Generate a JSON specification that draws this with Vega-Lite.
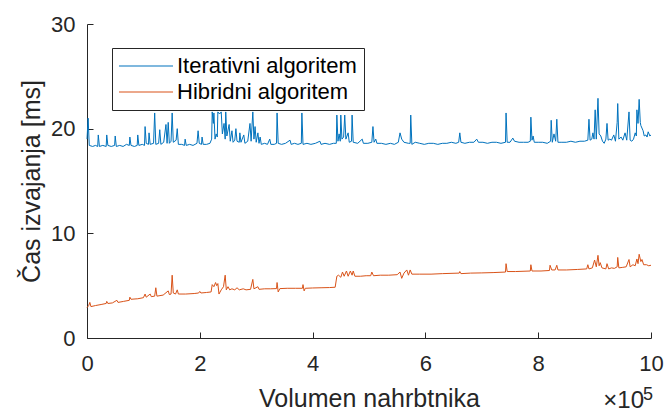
{
  "$schema": "https://vega.github.io/schema/vega-lite/v6.json",
  "width": 564,
  "height": 314,
  "autosize": {"type": "none"},
  "padding": {"left": 87, "top": 24, "right": 14, "bottom": 74},
  "background": "white",
  "config": {
    "view": {"stroke": null},
    "font": "Liberation Sans",
    "axis": {
      "grid": false,
      "domainColor": "#262626",
      "domainWidth": 1,
      "tickColor": "#262626",
      "tickWidth": 1,
      "tickSize": -6,
      "labelColor": "#262626",
      "labelFont": "Liberation Sans",
      "labelFontSize": 22,
      "titleColor": "#262626",
      "titleFont": "Liberation Sans",
      "titleFontSize": 25,
      "titleFontWeight": "normal"
    },
    "legend": {
      "orient": "none",
      "legendX": 25,
      "legendY": 24,
      "strokeColor": "#262626",
      "fillColor": "white",
      "padding": 7,
      "symbolType": "M-2.7,0H2.7",
      "symbolSize": 400,
      "symbolOffset": 16,
      "symbolStrokeWidth": 1.2,
      "labelFont": "Liberation Sans",
      "labelFontSize": 22,
      "labelColor": "#000000",
      "labelOffset": 20,
      "labelLimit": 0,
      "rowPadding": 4,
      "title": null
    }
  },
  "datasets": {
    "iter": [
      {"x":0,"y":19.0},{"x":0.02,"y":21.0},{"x":0.04,"y":18.4},{"x":0.1,"y":18.3},{"x":0.15,"y":18.4},{"x":0.19,"y":18.3},{"x":0.2,"y":19.4},{"x":0.22,"y":18.3},{"x":0.28,"y":18.4},{"x":0.34,"y":18.3},{"x":0.35,"y":19.4},{"x":0.37,"y":18.4},{"x":0.43,"y":18.3},{"x":0.49,"y":18.4},{"x":0.5,"y":19.3},{"x":0.52,"y":18.3},{"x":0.58,"y":18.4},{"x":0.64,"y":18.3},{"x":0.7,"y":18.5},{"x":0.75,"y":18.4},{"x":0.76,"y":19.2},{"x":0.78,"y":18.4},{"x":0.84,"y":18.3},{"x":0.89,"y":18.4},{"x":0.9,"y":19.4},{"x":0.92,"y":18.4},{"x":0.98,"y":18.5},{"x":1.02,"y":18.4},{"x":1.03,"y":20.2},{"x":1.05,"y":18.6},{"x":1.09,"y":18.5},{"x":1.1,"y":19.6},{"x":1.12,"y":18.5},{"x":1.18,"y":18.6},{"x":1.2,"y":21.5},{"x":1.22,"y":18.5},{"x":1.27,"y":18.6},{"x":1.29,"y":19.9},{"x":1.31,"y":18.5},{"x":1.36,"y":18.7},{"x":1.4,"y":20.4},{"x":1.42,"y":18.6},{"x":1.44,"y":20.6},{"x":1.46,"y":18.6},{"x":1.49,"y":18.8},{"x":1.51,"y":21.5},{"x":1.53,"y":18.7},{"x":1.58,"y":18.9},{"x":1.6,"y":20.0},{"x":1.62,"y":18.5},{"x":1.68,"y":18.5},{"x":1.73,"y":18.4},{"x":1.74,"y":19.0},{"x":1.76,"y":18.4},{"x":1.82,"y":18.5},{"x":1.88,"y":18.4},{"x":1.95,"y":18.6},{"x":1.97,"y":19.8},{"x":1.99,"y":18.6},{"x":2.03,"y":18.5},{"x":2.04,"y":19.2},{"x":2.06,"y":18.5},{"x":2.12,"y":18.5},{"x":2.18,"y":18.6},{"x":2.21,"y":19.0},{"x":2.22,"y":21.6},{"x":2.24,"y":20.5},{"x":2.25,"y":21.5},{"x":2.27,"y":19.0},{"x":2.29,"y":19.5},{"x":2.31,"y":19.2},{"x":2.32,"y":21.6},{"x":2.35,"y":21.4},{"x":2.38,"y":21.6},{"x":2.4,"y":19.5},{"x":2.43,"y":20.5},{"x":2.45,"y":19.0},{"x":2.46,"y":21.6},{"x":2.48,"y":19.3},{"x":2.52,"y":20.4},{"x":2.54,"y":18.8},{"x":2.57,"y":19.8},{"x":2.59,"y":18.7},{"x":2.62,"y":18.9},{"x":2.64,"y":20.0},{"x":2.66,"y":18.8},{"x":2.7,"y":18.7},{"x":2.71,"y":19.6},{"x":2.73,"y":18.7},{"x":2.78,"y":19.4},{"x":2.8,"y":18.6},{"x":2.85,"y":18.8},{"x":2.89,"y":20.5},{"x":2.91,"y":18.8},{"x":2.94,"y":21.6},{"x":2.96,"y":19.0},{"x":2.98,"y":20.2},{"x":3.0,"y":18.7},{"x":3.03,"y":19.6},{"x":3.05,"y":18.6},{"x":3.07,"y":19.2},{"x":3.09,"y":18.5},{"x":3.15,"y":18.6},{"x":3.2,"y":18.5},{"x":3.24,"y":19.0},{"x":3.26,"y":18.5},{"x":3.32,"y":18.5},{"x":3.36,"y":18.6},{"x":3.37,"y":21.5},{"x":3.39,"y":18.6},{"x":3.45,"y":18.5},{"x":3.52,"y":18.6},{"x":3.6,"y":18.9},{"x":3.62,"y":18.5},{"x":3.68,"y":18.6},{"x":3.74,"y":18.5},{"x":3.8,"y":18.6},{"x":3.81,"y":21.5},{"x":3.83,"y":18.5},{"x":3.9,"y":18.6},{"x":3.97,"y":18.5},{"x":4.05,"y":18.6},{"x":4.13,"y":18.8},{"x":4.15,"y":18.5},{"x":4.22,"y":18.6},{"x":4.3,"y":18.5},{"x":4.37,"y":18.6},{"x":4.42,"y":18.6},{"x":4.43,"y":21.3},{"x":4.45,"y":18.8},{"x":4.47,"y":19.5},{"x":4.49,"y":18.8},{"x":4.5,"y":21.3},{"x":4.52,"y":19.0},{"x":4.55,"y":19.2},{"x":4.57,"y":21.3},{"x":4.59,"y":19.0},{"x":4.63,"y":19.6},{"x":4.65,"y":18.7},{"x":4.69,"y":18.8},{"x":4.7,"y":21.3},{"x":4.72,"y":18.7},{"x":4.8,"y":18.6},{"x":4.88,"y":19.0},{"x":4.9,"y":18.6},{"x":4.98,"y":18.6},{"x":5.05,"y":18.7},{"x":5.07,"y":20.2},{"x":5.09,"y":18.7},{"x":5.12,"y":19.0},{"x":5.14,"y":18.6},{"x":5.22,"y":18.6},{"x":5.3,"y":18.5},{"x":5.38,"y":18.6},{"x":5.45,"y":18.5},{"x":5.52,"y":18.7},{"x":5.55,"y":19.6},{"x":5.58,"y":19.0},{"x":5.62,"y":18.7},{"x":5.7,"y":18.6},{"x":5.73,"y":18.6},{"x":5.74,"y":21.3},{"x":5.76,"y":18.5},{"x":5.82,"y":18.7},{"x":5.9,"y":18.6},{"x":5.98,"y":18.5},{"x":6.06,"y":18.6},{"x":6.14,"y":18.6},{"x":6.22,"y":18.5},{"x":6.3,"y":18.6},{"x":6.38,"y":18.6},{"x":6.46,"y":18.7},{"x":6.54,"y":18.6},{"x":6.59,"y":18.7},{"x":6.61,"y":19.6},{"x":6.63,"y":18.7},{"x":6.7,"y":18.6},{"x":6.78,"y":18.7},{"x":6.86,"y":18.7},{"x":6.91,"y":19.0},{"x":6.94,"y":18.7},{"x":7.02,"y":18.7},{"x":7.1,"y":18.6},{"x":7.18,"y":18.7},{"x":7.26,"y":18.7},{"x":7.34,"y":18.6},{"x":7.42,"y":18.7},{"x":7.43,"y":21.5},{"x":7.45,"y":18.7},{"x":7.5,"y":18.7},{"x":7.55,"y":19.1},{"x":7.58,"y":18.8},{"x":7.66,"y":18.7},{"x":7.74,"y":18.7},{"x":7.82,"y":18.7},{"x":7.86,"y":18.8},{"x":7.87,"y":21.1},{"x":7.89,"y":18.9},{"x":7.91,"y":19.3},{"x":7.93,"y":18.7},{"x":8.0,"y":18.7},{"x":8.08,"y":18.7},{"x":8.16,"y":18.6},{"x":8.22,"y":18.8},{"x":8.23,"y":20.8},{"x":8.25,"y":18.7},{"x":8.28,"y":19.5},{"x":8.31,"y":18.8},{"x":8.33,"y":20.9},{"x":8.35,"y":18.7},{"x":8.42,"y":18.7},{"x":8.5,"y":18.7},{"x":8.58,"y":18.8},{"x":8.66,"y":18.7},{"x":8.74,"y":18.8},{"x":8.82,"y":18.8},{"x":8.88,"y":18.9},{"x":8.9,"y":20.9},{"x":8.92,"y":18.9},{"x":8.95,"y":19.0},{"x":8.97,"y":19.6},{"x":8.99,"y":19.0},{"x":9.01,"y":21.8},{"x":9.03,"y":19.0},{"x":9.06,"y":22.9},{"x":9.08,"y":19.5},{"x":9.11,"y":19.3},{"x":9.14,"y":18.8},{"x":9.17,"y":18.6},{"x":9.2,"y":19.0},{"x":9.22,"y":20.5},{"x":9.24,"y":18.9},{"x":9.27,"y":19.0},{"x":9.3,"y":18.9},{"x":9.34,"y":19.4},{"x":9.37,"y":18.8},{"x":9.4,"y":20.6},{"x":9.41,"y":22.4},{"x":9.43,"y":19.0},{"x":9.47,"y":19.2},{"x":9.5,"y":18.9},{"x":9.54,"y":19.6},{"x":9.57,"y":18.9},{"x":9.61,"y":21.6},{"x":9.63,"y":18.9},{"x":9.66,"y":18.8},{"x":9.69,"y":19.0},{"x":9.72,"y":19.6},{"x":9.74,"y":19.3},{"x":9.75,"y":21.8},{"x":9.77,"y":20.5},{"x":9.79,"y":22.8},{"x":9.81,"y":20.6},{"x":9.82,"y":20.3},{"x":9.86,"y":19.8},{"x":9.88,"y":19.3},{"x":9.91,"y":19.4},{"x":9.93,"y":19.2},{"x":9.95,"y":19.7},{"x":9.98,"y":19.3},{"x":10.0,"y":19.4}
    ],
    "hyb": [
      {"x":0,"y":2.9},{"x":0.03,"y":3.1},{"x":0.05,"y":3.4},{"x":0.07,"y":3.0},{"x":0.15,"y":3.1},{"x":0.25,"y":3.2},{"x":0.34,"y":3.3},{"x":0.35,"y":3.5},{"x":0.37,"y":3.3},{"x":0.45,"y":3.35},{"x":0.53,"y":3.6},{"x":0.55,"y":3.4},{"x":0.65,"y":3.5},{"x":0.75,"y":3.6},{"x":0.76,"y":3.9},{"x":0.78,"y":3.7},{"x":0.9,"y":3.75},{"x":1.0,"y":3.85},{"x":1.03,"y":4.2},{"x":1.05,"y":3.9},{"x":1.12,"y":4.2},{"x":1.14,"y":3.95},{"x":1.2,"y":4.0},{"x":1.22,"y":4.8},{"x":1.24,"y":4.0},{"x":1.35,"y":4.1},{"x":1.44,"y":4.5},{"x":1.46,"y":4.15},{"x":1.49,"y":4.2},{"x":1.51,"y":6.0},{"x":1.53,"y":4.3},{"x":1.57,"y":4.2},{"x":1.6,"y":4.6},{"x":1.62,"y":4.2},{"x":1.75,"y":4.2},{"x":1.9,"y":4.25},{"x":1.98,"y":4.3},{"x":2.0,"y":4.45},{"x":2.02,"y":4.3},{"x":2.12,"y":4.35},{"x":2.2,"y":4.4},{"x":2.22,"y":5.1},{"x":2.25,"y":4.9},{"x":2.28,"y":5.3},{"x":2.3,"y":5.0},{"x":2.32,"y":5.2},{"x":2.34,"y":4.2},{"x":2.38,"y":4.6},{"x":2.42,"y":4.9},{"x":2.45,"y":6.0},{"x":2.47,"y":4.6},{"x":2.5,"y":4.9},{"x":2.53,"y":4.6},{"x":2.57,"y":4.7},{"x":2.62,"y":4.6},{"x":2.66,"y":4.8},{"x":2.7,"y":4.6},{"x":2.77,"y":4.7},{"x":2.82,"y":4.6},{"x":2.9,"y":4.65},{"x":2.94,"y":5.6},{"x":2.96,"y":4.7},{"x":3.03,"y":4.9},{"x":3.05,"y":4.65},{"x":3.15,"y":4.7},{"x":3.25,"y":4.7},{"x":3.36,"y":4.72},{"x":3.37,"y":5.3},{"x":3.39,"y":4.4},{"x":3.42,"y":4.72},{"x":3.55,"y":4.75},{"x":3.7,"y":4.75},{"x":3.82,"y":4.75},{"x":3.83,"y":5.1},{"x":3.85,"y":4.5},{"x":3.87,"y":4.75},{"x":4.0,"y":4.78},{"x":4.15,"y":4.8},{"x":4.3,"y":4.82},{"x":4.4,"y":4.85},{"x":4.43,"y":5.9},{"x":4.46,"y":6.0},{"x":4.5,"y":5.8},{"x":4.53,"y":6.3},{"x":4.56,"y":5.9},{"x":4.6,"y":6.4},{"x":4.63,"y":5.9},{"x":4.67,"y":6.4},{"x":4.7,"y":6.0},{"x":4.72,"y":6.4},{"x":4.75,"y":5.9},{"x":4.85,"y":5.9},{"x":4.95,"y":5.95},{"x":5.03,"y":5.95},{"x":5.05,"y":6.3},{"x":5.08,"y":5.95},{"x":5.2,"y":6.0},{"x":5.35,"y":6.0},{"x":5.5,"y":6.05},{"x":5.55,"y":6.3},{"x":5.58,"y":5.7},{"x":5.62,"y":6.2},{"x":5.67,"y":6.5},{"x":5.7,"y":6.0},{"x":5.73,"y":6.5},{"x":5.76,"y":6.1},{"x":5.9,"y":6.1},{"x":6.1,"y":6.1},{"x":6.3,"y":6.15},{"x":6.6,"y":6.2},{"x":6.61,"y":6.35},{"x":6.63,"y":6.15},{"x":6.8,"y":6.2},{"x":7.0,"y":6.22},{"x":7.2,"y":6.25},{"x":7.42,"y":6.3},{"x":7.43,"y":7.1},{"x":7.45,"y":6.35},{"x":7.6,"y":6.35},{"x":7.86,"y":6.4},{"x":7.87,"y":7.0},{"x":7.89,"y":6.4},{"x":8.05,"y":6.4},{"x":8.2,"y":6.45},{"x":8.21,"y":6.95},{"x":8.24,"y":6.5},{"x":8.3,"y":6.5},{"x":8.33,"y":6.95},{"x":8.35,"y":6.5},{"x":8.5,"y":6.5},{"x":8.7,"y":6.55},{"x":8.86,"y":6.6},{"x":8.88,"y":7.0},{"x":8.9,"y":6.6},{"x":8.96,"y":6.7},{"x":9.0,"y":7.45},{"x":9.03,"y":6.8},{"x":9.06,"y":7.9},{"x":9.08,"y":6.9},{"x":9.1,"y":7.2},{"x":9.13,"y":6.7},{"x":9.2,"y":6.6},{"x":9.22,"y":7.1},{"x":9.25,"y":6.6},{"x":9.3,"y":6.7},{"x":9.35,"y":6.65},{"x":9.4,"y":6.8},{"x":9.41,"y":7.7},{"x":9.43,"y":6.7},{"x":9.5,"y":6.75},{"x":9.56,"y":6.8},{"x":9.61,"y":7.5},{"x":9.63,"y":6.8},{"x":9.68,"y":7.0},{"x":9.72,"y":6.9},{"x":9.75,"y":7.55},{"x":9.77,"y":7.1},{"x":9.79,"y":8.0},{"x":9.82,"y":7.3},{"x":9.84,"y":7.5},{"x":9.87,"y":7.0},{"x":9.92,"y":7.0},{"x":9.96,"y":6.9},{"x":10.0,"y":6.95}
    ],
    "expo": [{"x": 10, "y": 0, "t": "×10", "s": "5"}]
  },
  "layer": [
    {
      "data": {"name": "iter"},
      "mark": {"type": "line", "strokeWidth": 1, "interpolate": "linear"},
      "encoding": {
        "x": {
          "field": "x",
          "type": "quantitative",
          "scale": {"domain": [0, 10], "nice": false, "zero": false},
          "axis": {
            "values": [0, 2, 4, 6, 8, 10],
            "format": "d",
            "title": "Volumen nahrbtnika",
            "labelPadding": 21,
            "titlePadding": 12,
            "labelFlush": false
          }
        },
        "y": {
          "field": "y",
          "type": "quantitative",
          "scale": {"domain": [0, 30], "nice": false},
          "axis": {
            "values": [0, 10, 20, 30],
            "format": "d",
            "title": "Čas izvajanja [ms]",
            "labelPadding": 18,
            "titlePadding": 6,
            "labelFlush": false
          }
        },
        "color": {
          "datum": "Iterativni algoritem",
          "type": "nominal",
          "scale": {"domain": ["Iterativni algoritem", "Hibridni algoritem"], "range": ["#0072BD", "#D95319"]}
        }
      }
    },
    {
      "data": {"name": "hyb"},
      "mark": {"type": "line", "strokeWidth": 1, "interpolate": "linear"},
      "encoding": {
        "x": {"field": "x", "type": "quantitative"},
        "y": {"field": "y", "type": "quantitative"},
        "color": {"datum": "Hibridni algoritem", "type": "nominal"}
      }
    },
    {
      "data": {"name": "expo"},
      "mark": {"type": "text", "align": "right", "baseline": "alphabetic", "dx": -7, "dy": 70, "fontSize": 24, "font": "Liberation Sans", "color": "#262626", "clip": false},
      "encoding": {
        "x": {"field": "x", "type": "quantitative"},
        "y": {"field": "y", "type": "quantitative"},
        "text": {"field": "t"}
      }
    },
    {
      "data": {"name": "expo"},
      "mark": {"type": "text", "align": "left", "baseline": "alphabetic", "dx": -8, "dy": 62, "fontSize": 18, "font": "Liberation Sans", "color": "#262626", "clip": false},
      "encoding": {
        "x": {"field": "x", "type": "quantitative"},
        "y": {"field": "y", "type": "quantitative"},
        "text": {"field": "s"}
      }
    }
  ]
}
